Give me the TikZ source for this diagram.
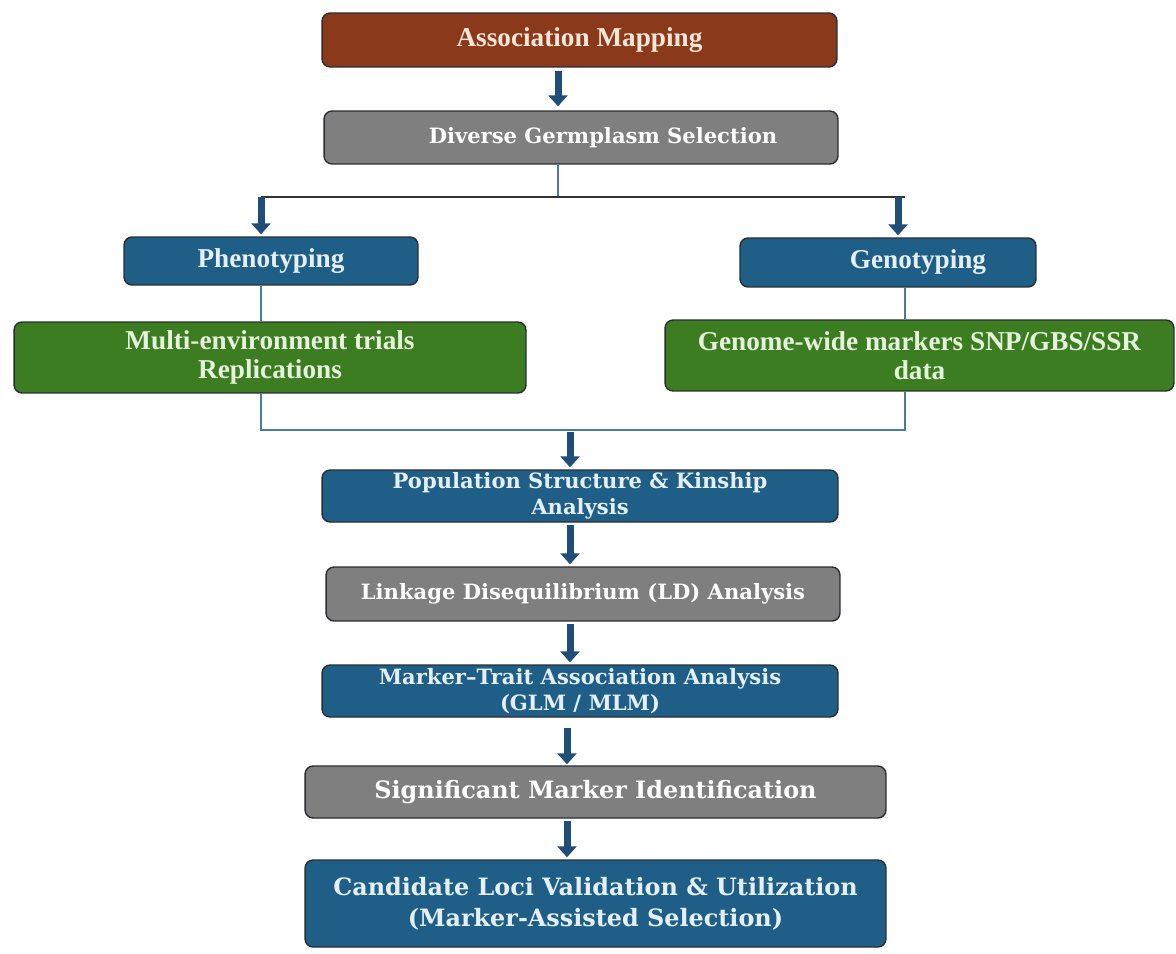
\documentclass[tikz,border=0pt]{standalone}
\usepackage{fontspec}
\setmainfont{Liberation Serif}
\newfontfamily\wideserif{DejaVu Serif}
\usepackage{tikz}
\usetikzlibrary{arrows.meta}
\usepackage{xcolor}
\definecolor{mapbrown}{HTML}{8A3A1A}
\definecolor{mapfont}{HTML}{FBE5D6}
\definecolor{stepgray}{HTML}{7F7F7F}
\definecolor{stepblue}{HTML}{1F5F87}
\definecolor{bluefont}{HTML}{E4EFF8}
\definecolor{stepgreen}{HTML}{3C7D22}
\definecolor{greenfont}{HTML}{E6F3DC}
\definecolor{boxline}{HTML}{2A2E33}
\definecolor{flowblue}{HTML}{1F4E79}
\definecolor{linkblue}{HTML}{4A7BA0}

\begin{document}
\begin{tikzpicture}[x=0.02cm,y=-0.02cm,line cap=butt,
  box/.style={draw=boxline,line width=0.8pt,rounded corners=0.16cm,inner sep=0pt,align=center,
    font=\bfseries\fontsize{15.5}{15.5}\selectfont},
  wide/.style={font=\wideserif\bfseries\fontsize{12}{15}\selectfont},
  big/.style={font=\wideserif\bfseries\fontsize{13.6}{17.5}\selectfont},
  flow/.style={draw=flowblue,line width=0.14cm,-{Triangle[width=0.38cm,length=0.22cm]}},
  link/.style={draw=linkblue,line width=1.1pt},
  rail/.style={draw=black!80,line width=1.5pt}]
\useasboundingbox (0,0) rectangle (1176,953);
\node[box,fill=mapbrown,text=mapfont,minimum width=10.3cm,minimum height=1.08cm] (assoc) at (579.5,40) {Association Mapping};
\node[box,wide,fill=stepgray,text=white,minimum width=10.28cm,minimum height=1.06cm] (germ) at (581,137.5) {\hspace*{0.88cm}Diverse Germplasm Selection};
\node[box,fill=stepblue,text=bluefont,minimum width=5.88cm,minimum height=0.96cm] (pheno) at (271,261) {Phenotyping};
\node[box,fill=stepblue,text=bluefont,minimum width=5.92cm,minimum height=0.98cm] (geno) at (888,262.5) {\hspace*{1.2cm}Genotyping};
\node[box,fill=stepgreen,text=greenfont,minimum width=10.24cm,minimum height=1.42cm] (trials) at (270,357.5) {Multi-environment trials\\[1pt]Replications};
\node[box,fill=stepgreen,text=greenfont,minimum width=10.18cm,minimum height=1.42cm] (markers) at (919.5,355.5) {Genome-wide markers SNP/GBS/SSR\\[1pt]data};
\node[box,wide,fill=stepblue,text=bluefont,minimum width=10.32cm,minimum height=1.04cm] (pop) at (580,496) {Population Structure \& Kinship\\Analysis};
\node[box,wide,fill=stepgray,text=white,minimum width=10.28cm,minimum height=1.08cm] (ld) at (583,594) {Linkage Disequilibrium (LD) Analysis};
\node[box,wide,fill=stepblue,text=bluefont,minimum width=10.32cm,minimum height=1.04cm] (mta) at (580,691) {Marker\textendash Trait Association Analysis\\(GLM / MLM)};
\node[box,big,fill=stepgray,text=white,minimum width=11.62cm,minimum height=1.04cm] (sig) at (595.5,792) {Significant Marker Identification};
\node[box,big,fill=stepblue,text=bluefont,minimum width=11.62cm,minimum height=1.74cm] (cand) at (595.5,903.5) {Candidate Loci Validation \& Utilization\\(Marker-Assisted Selection)};

\coordinate (split) at (558,197);
\coordinate (splitL) at (261,197);
\coordinate (splitR) at (905,197);
\coordinate (joinL) at (261,430);
\coordinate (joinR) at (905,430);
\coordinate (join) at (570,430);
\coordinate (low) at (567,720);

\draw[flow,shorten <=0.06cm,shorten >=0.08cm] ([xshift=-0.43cm]assoc.south) -- ([xshift=-0.43cm]assoc.south |- germ.north);
\draw[link] ([xshift=-0.46cm]germ.south) -- (split);
\draw[rail] (splitL) -- (splitR);
\draw[flow,shorten >=0.04cm] (splitL) -- (splitL |- pheno.north);
\draw[flow,shorten >=0.04cm] ([xshift=-0.14cm]splitR) -- ([xshift=-0.14cm]splitR |- geno.north);
\draw[link] (splitL |- pheno.south) -- (splitL |- trials.north);
\draw[link] (splitR |- geno.south) -- (splitR |- markers.north);
\draw[link] (splitL |- trials.south) -- (joinL) -- (joinR) -- (splitR |- markers.south);
\draw[flow,shorten <=0.04cm,shorten >=0.04cm] (join) -- (join |- pop.north);
\draw[flow,shorten <=0.04cm,shorten >=0.04cm] (join |- pop.south) -- (join |- ld.north);
\draw[flow,shorten <=0.04cm,shorten >=0.04cm] (join |- ld.south) -- (join |- mta.north);
\draw[flow,shorten <=0.2cm,shorten >=0.02cm] (low |- mta.south) -- (low |- sig.north);
\draw[flow,shorten <=0.04cm,shorten >=0.04cm] (low |- sig.south) -- (low |- cand.north);
\end{tikzpicture}
\end{document}
